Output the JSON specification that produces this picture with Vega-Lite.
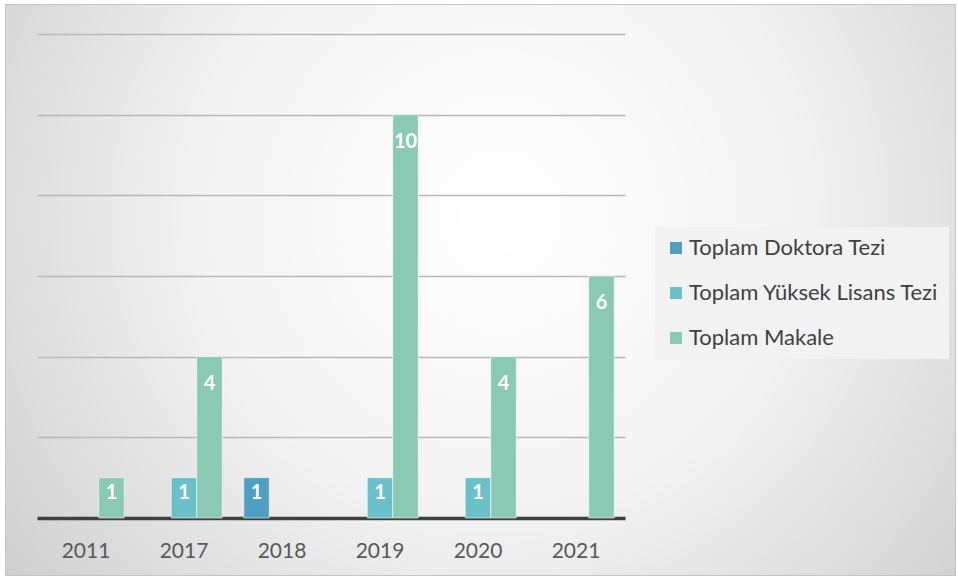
{
  "$schema": "https://vega.github.io/schema/vega-lite/v6.json",
  "width": 950,
  "height": 571,
  "autosize": {"type": "none"},
  "padding": {"left": 5, "top": 4, "right": 3, "bottom": 4},
  "background": "white",
  "view": {
    "stroke": "#c4c4c4",
    "strokeWidth": 1,
    "fill": {
      "gradient": "radial",
      "x1": 0.52, "y1": 0.42, "r1": 0,
      "x2": 0.52, "y2": 0.42, "r2": 0.78,
      "stops": [
        {"offset": 0, "color": "#ffffff"},
        {"offset": 0.4, "color": "#f3f3f3"},
        {"offset": 1, "color": "#c0c0c0"}
      ]
    }
  },
  "config": {
    "font": "Lato"
  },
  "data": {
    "values": [
      {"year": "2011", "series": "Toplam Makale", "value": 1},
      {"year": "2017", "series": "Toplam Yüksek Lisans Tezi", "value": 1},
      {"year": "2017", "series": "Toplam Makale", "value": 4},
      {"year": "2018", "series": "Toplam Doktora Tezi", "value": 1},
      {"year": "2019", "series": "Toplam Yüksek Lisans Tezi", "value": 1},
      {"year": "2019", "series": "Toplam Makale", "value": 10},
      {"year": "2020", "series": "Toplam Yüksek Lisans Tezi", "value": 1},
      {"year": "2020", "series": "Toplam Makale", "value": 4},
      {"year": "2021", "series": "Toplam Makale", "value": 6}
    ]
  },
  "encoding": {
    "x": {
      "field": "year",
      "type": "ordinal",
      "sort": ["2011", "2017", "2018", "2019", "2020", "2021"],
      "scale": {"range": [32, 620], "paddingInner": 0.22, "paddingOuter": 0.11},
      "axis": {
        "title": null,
        "orient": "bottom",
        "offset": -57,
        "ticks": false,
        "tickSize": 0,
        "labelPadding": 22,
        "labelFontSize": 21,
        "labelColor": "#595959",
        "labelAngle": 0,
        "domainColor": "#404040",
        "domainWidth": 3.5
      }
    },
    "xOffset": {
      "field": "series",
      "type": "nominal",
      "scale": {"domain": ["Toplam Doktora Tezi", "Toplam Yüksek Lisans Tezi", "Toplam Makale"], "paddingInner": 0, "paddingOuter": 0}
    },
    "y": {
      "field": "value",
      "type": "quantitative",
      "scale": {"domain": [0, 12], "range": [514, 30], "nice": false},
      "axis": {
        "title": null,
        "labels": false,
        "ticks": false,
        "domain": false,
        "values": [2, 4, 6, 8, 10, 12],
        "grid": true,
        "gridColor": "#b8b8b8",
        "gridWidth": 1.5
      }
    }
  },
  "layer": [
    {
      "mark": {"type": "bar", "stroke": "#ffffff", "strokeOpacity": 0.55, "strokeWidth": 1},
      "encoding": {
        "color": {
          "field": "series",
          "type": "nominal",
          "scale": {
            "domain": ["Toplam Doktora Tezi", "Toplam Yüksek Lisans Tezi", "Toplam Makale"],
            "range": ["#4e9fc2", "#6cc0c9", "#8ac9b4"]
          },
          "legend": {
            "title": null,
            "orient": "none",
            "legendX": 650,
            "legendY": 223,
            "symbolType": "square",
            "symbolSize": 144,
            "symbolStrokeWidth": 0,
            "labelFontSize": 22,
            "labelLimit": 400,
            "labelColor": "#404040",
            "labelOffset": 2,
            "rowPadding": 23,
            "padding": 10,
            "fillColor": "#f2f2f2",
            "strokeColor": null
          }
        }
      }
    },
    {
      "transform": [{"filter": "datum.value > 1"}],
      "mark": {"type": "text", "color": "white", "fontWeight": "bold", "fontSize": 20, "baseline": "middle", "dy": 27},
      "encoding": {"text": {"field": "value", "type": "quantitative"}}
    },
    {
      "transform": [{"filter": "datum.value == 1"}],
      "mark": {"type": "text", "color": "white", "fontWeight": "bold", "fontSize": 20, "baseline": "middle", "dy": 15},
      "encoding": {"text": {"field": "value", "type": "quantitative"}}
    }
  ]
}
